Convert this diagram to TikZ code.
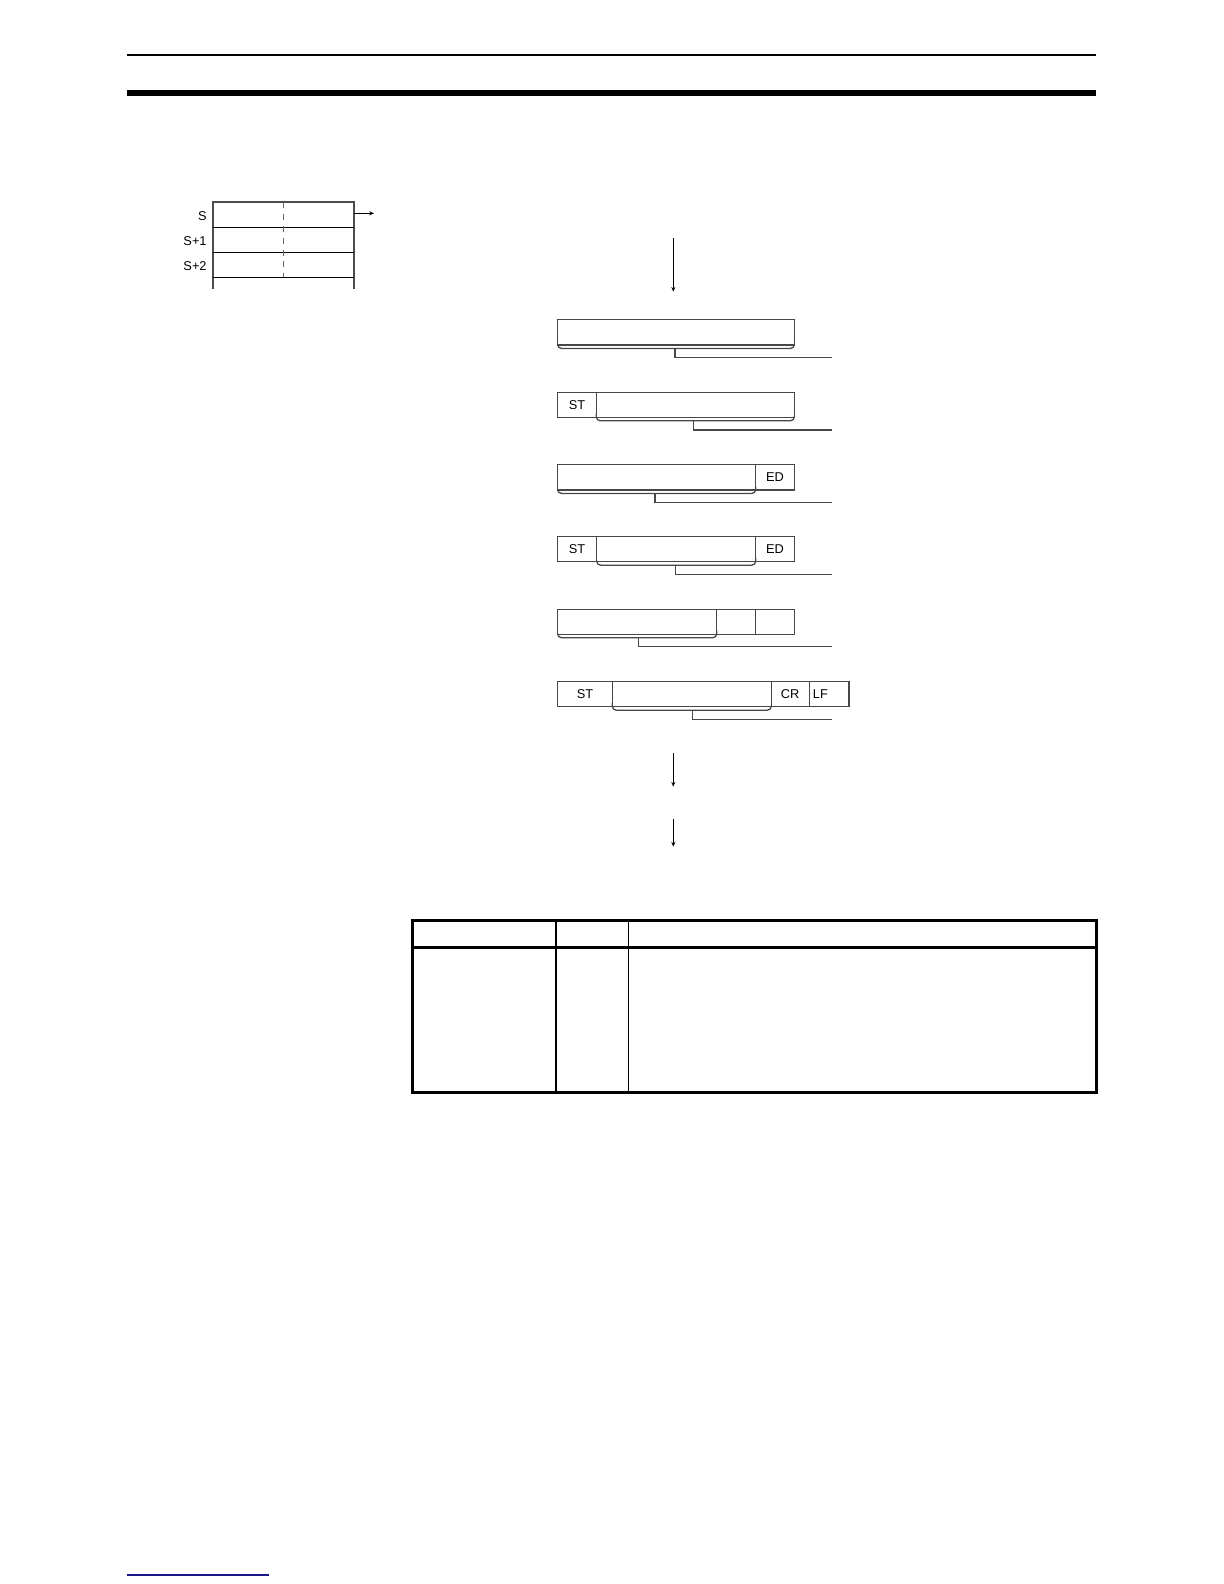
\documentclass[tikz,border=0pt]{standalone}
\usepackage{fontspec}
\setmainfont{Liberation Sans}
\usetikzlibrary{arrows.meta}
\definecolor{linkblue}{RGB}{24,24,140}
\tikzset{
	frameline/.style={draw=black!72, line width=0.65bp},
	lbl/.style={font=\fontsize{6.4bp}{7.7bp}\selectfont, inner sep=0pt},
	flow/.style={line width=0.6bp, -{Stealth[length=2.4bp, width=2bp]}}
}
% brace under the data part of a frame: (left:right:bottom)
\def\databrace(#1:#2:#3){\draw[frameline, rounded corners=2] (#1,#3) -- (#1,#3+3.5) -- (#2,#3+3.5) -- (#2,#3);}

\begin{document}
\begin{tikzpicture}[x=0.5bp, y=-0.5bp]
			%%%%% PAGE %%%%%
			\useasboundingbox (0,0) rectangle (1224,1584);
			\fill (126.7,54.4) rectangle (1096,55.8);
			\fill (126.7,90) rectangle (1096,96);
			
			%%%%% REGISTER %%%%%
			\draw[line width=1bp, black!70] (212.7,289) -- (212.7,201.7) -- (353.7,201.7) -- (353.7,289);
			\draw[line width=0.6bp] (212.7,227.3) -- (353.7,227.3);
			\draw[line width=0.6bp] (212.7,252.3) -- (353.7,252.3);
			\draw[line width=0.6bp] (212.7,277.3) -- (353.7,277.3);
			\draw[dashed, black!60, line width=0.5bp] (283.3,201.7) -- (283.3,277.3);
			\node[lbl, anchor=east] (s0) at (207,216) {S};
			\node[lbl, anchor=east] (s1) at (207,241.5) {S+1};
			\node[lbl, anchor=east] (s2) at (207,266.5) {S+2};
			\coordinate (regout) at (353.7,213.3);
			\coordinate (regend) at (374,213.3);
			\draw[flow] (regout) -- (regend);
			
			%%%%% FLOW IN %%%%%
			\coordinate (in0) at (673.3,238.3);
			\coordinate (in1) at (673.3,291.7);
			\draw[flow] (in0) -- (in1);
			
			%%%%% FRAME 1 %%%%%
			\draw[frameline] (557.7,319.3) rectangle (794.3,345);
			\databrace(557.7:794.3:345)
			\coordinate (b1) at (675,348.5);
			\coordinate (e1) at (831.7,357.3);
			\draw[frameline] (b1) |- (e1);
			
			%%%%% FRAME 2 %%%%%
			\draw[frameline] (557.7,392.3) rectangle (794.3,417.3);
			\draw[frameline] (596.3,392.3) -- (596.3,417.3);
			\node[lbl] (st2) at (577,404.8) {ST};
			\databrace(596.3:794.3:417.3)
			\coordinate (b2) at (693.3,420.8);
			\coordinate (e2) at (831.7,430);
			\draw[frameline] (b2) |- (e2);
			
			%%%%% FRAME 3 %%%%%
			\draw[frameline] (557.7,464.3) rectangle (794.3,490);
			\draw[frameline] (755.7,464.3) -- (755.7,490);
			\node[lbl] (ed3) at (775,477.2) {ED};
			\databrace(557.7:755.7:490)
			\coordinate (b3) at (655,493.5);
			\coordinate (e3) at (831.7,502.3);
			\draw[frameline] (b3) |- (e3);
			
			%%%%% FRAME 4 %%%%%
			\draw[frameline] (557.7,536.7) rectangle (794.3,561.7);
			\draw[frameline] (596.7,536.7) -- (596.7,561.7);
			\draw[frameline] (755.7,536.7) -- (755.7,561.7);
			\node[lbl] (st4) at (577,549.2) {ST};
			\node[lbl] (ed4) at (775,549.2) {ED};
			\databrace(596.7:755.7:561.7)
			\coordinate (b4) at (675.7,565.2);
			\coordinate (e4) at (831.7,574.3);
			\draw[frameline] (b4) |- (e4);
			
			%%%%% FRAME 5 %%%%%
			\draw[frameline] (557.7,609.3) rectangle (794.3,634.3);
			\draw[frameline] (716.7,609.3) -- (716.7,634.3);
			\draw[frameline] (755.7,609.3) -- (755.7,634.3);
			\databrace(557.7:716.7:634.3)
			\coordinate (b5) at (638.3,637.8);
			\coordinate (e5) at (831.7,646.7);
			\draw[frameline] (b5) |- (e5);
			
			%%%%% FRAME 6 %%%%%
			\draw[frameline] (557.7,681.7) rectangle (849,706.7);
			\draw[frameline] (612.3,681.7) -- (612.3,706.7);
			\draw[frameline] (771.3,681.7) -- (771.3,706.7);
			\draw[frameline] (809.3,681.7) -- (809.3,706.7);
			\node[lbl] (st6) at (585,694.2) {ST};
			\node[lbl] (cr6) at (790,694.2) {CR};
			\node[lbl, anchor=west] (lf6) at (812.5,694.2) {LF};
			\databrace(612.3:771.3:706.7)
			\coordinate (b6) at (692.3,710.2);
			\coordinate (e6) at (831.7,719.3);
			\draw[frameline] (b6) |- (e6);
			
			%%%%% FLOW OUT %%%%%
			\coordinate (out0) at (673.3,753.3);
			\coordinate (out1) at (673.3,786.7);
			\draw[flow] (out0) -- (out1);
			\coordinate (out2) at (673.3,819);
			\coordinate (out3) at (673.3,846.7);
			\draw[flow] (out2) -- (out3);
			
			%%%%% TABLE %%%%%
			\draw[line width=1.5bp] (412.6,920.7) rectangle (1096,1092.7);
			\draw[line width=1.5bp] (412.6,947.5) -- (1096,947.5);
			\draw[line width=0.8bp] (556,920.7) -- (556,1092.7);
			\draw[line width=0.8bp] (628.6,920.7) -- (628.6,1092.7);
			
			%%%%% FOOT %%%%%
			\draw[linkblue, line width=1bp] (126.7,1575) -- (269,1575);
			%%%%% END %%%%%
		\end{tikzpicture}
\end{document}
